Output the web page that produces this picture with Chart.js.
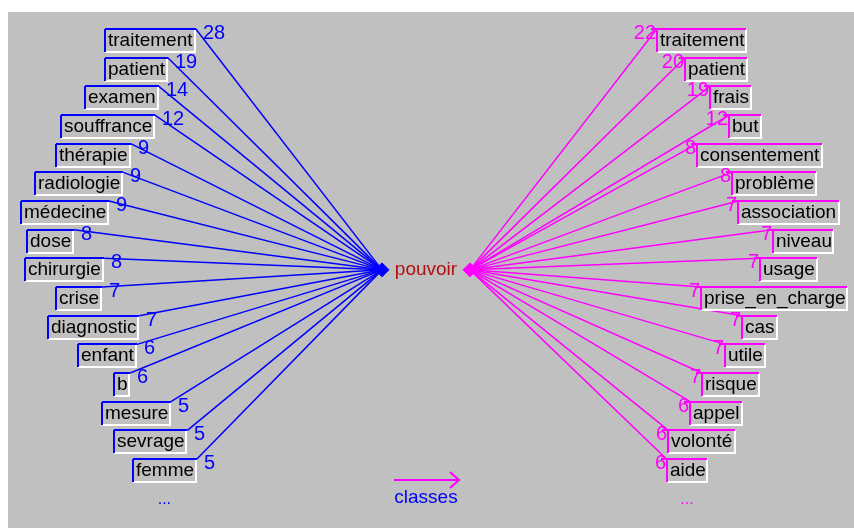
<!DOCTYPE html>
<html>
<head>
<meta charset="utf-8">
<script src="https://cdn.jsdelivr.net/npm/chart.js@4.4.1/dist/chart.umd.min.js"></script>
<style>
  html, body { margin: 0; padding: 0; background: #fff; }
</style>
</head>
<body>
<canvas id="chart" width="854" height="528"></canvas>
<script>
const centerWord = 'pouvoir';
const leftWords = ['traitement', 'patient', 'examen', 'souffrance', 'thérapie', 'radiologie', 'médecine', 'dose',
  'chirurgie', 'crise', 'diagnostic', 'enfant', 'b', 'mesure', 'sevrage', 'femme'];
const leftCounts = [28, 19, 14, 12, 9, 9, 9, 8, 8, 7, 7, 6, 6, 5, 5, 5];
const rightWords = ['traitement', 'patient', 'frais', 'but', 'consentement', 'problème', 'association', 'niveau',
  'usage', 'prise_en_charge', 'cas', 'utile', 'risque', 'appel', 'volonté', 'aide'];
const rightCounts = [22, 20, 19, 12, 8, 8, 7, 7, 7, 7, 7, 7, 7, 6, 6, 6];
const legendLabel = 'classes';
const moreLabel = '...';

const blue = '#0000ff';
const magenta = '#ff00ff';
const centerColor = '#b01010';
const panelGray = '#c0c0c0';
const wordFont = '19px "Liberation Sans", Arial, sans-serif';
const countFont = '20px "Liberation Sans", Arial, sans-serif';

const rowPx = 28.67;
const boxH = 23;
const boxHalf = (boxH / 2) / rowPx;
const hubRow = leftWords.length / 2;
const hubLeftX = 382;
const hubRightX = 470;

const measure = document.createElement('canvas').getContext('2d');
measure.font = wordFont;

function layoutBoxes(words, centerFor) {
  return words.map((w, i) => {
    const width = measure.measureText(w).width + 5;
    const cx = centerFor(i);
    return { left: cx - width / 2, right: cx + width / 2, center: cx };
  });
}
const leftBoxes = layoutBoxes(leftWords, i => 50 + 14.3 * Math.abs(i - 7));
const rightBoxes = layoutBoxes(rightWords, i => 803 - 14.5 * Math.abs(i - 7));

const datasets = [];
leftWords.forEach((w, i) => {
  datasets.push({
    data: [{ x: hubLeftX, y: hubRow }, { x: leftBoxes[i].right + 1, y: i - boxHalf }],
    borderColor: blue, borderWidth: 1.5, showLine: true, pointRadius: 0
  });
});
rightWords.forEach((w, i) => {
  datasets.push({
    data: [{ x: hubRightX, y: hubRow }, { x: rightBoxes[i].left, y: i - boxHalf }],
    borderColor: magenta, borderWidth: 1.5, showLine: true, pointRadius: 0
  });
});
datasets.push({
  data: [{ x: hubLeftX, y: hubRow }],
  pointStyle: 'rectRot', pointRadius: 7, backgroundColor: blue, borderColor: blue
});
datasets.push({
  data: [{ x: hubRightX, y: hubRow }],
  pointStyle: 'rectRot', pointRadius: 7, backgroundColor: magenta, borderColor: magenta
});

const wordBoxes = {
  id: 'wordBoxes',
  beforeDraw(chart) {
    const ctx = chart.ctx;
    ctx.save();
    ctx.fillStyle = '#fff';
    ctx.fillRect(0, 0, chart.width, chart.height);
    ctx.fillStyle = panelGray;
    ctx.fillRect(8, 12, chart.width - 8, chart.height - 12);
    ctx.restore();
  },
  afterDatasetsDraw(chart) {
    const { ctx, scales: { x, y } } = chart;
    ctx.save();

    const drawSide = (words, counts, boxes, color, isLeft) => {
      words.forEach((w, i) => {
        const top = Math.round(y.getPixelForValue(i) - boxH / 2);
        const l = Math.round(x.getPixelForValue(boxes[i].left));
        const r = Math.round(x.getPixelForValue(boxes[i].right));
        ctx.fillStyle = panelGray;
        ctx.fillRect(l, top, r - l, boxH);
        ctx.lineWidth = 2;
        ctx.strokeStyle = '#fff';
        ctx.beginPath();
        ctx.moveTo(l, top + boxH);
        ctx.lineTo(r, top + boxH);
        ctx.lineTo(r, top);
        ctx.stroke();
        ctx.strokeStyle = color;
        ctx.beginPath();
        ctx.moveTo(l, top + boxH);
        ctx.lineTo(l, top);
        ctx.stroke();
        ctx.beginPath();
        ctx.moveTo(isLeft ? l : l - 6, top);
        ctx.lineTo(isLeft ? r + 1 : r, top);
        ctx.stroke();

        ctx.fillStyle = '#000';
        ctx.font = wordFont;
        ctx.textAlign = 'left';
        ctx.textBaseline = 'alphabetic';
        ctx.fillText(w, l + 3, top + 16.5);

        ctx.fillStyle = color;
        ctx.font = countFont;
        ctx.textBaseline = 'middle';
        if (isLeft) {
          ctx.textAlign = 'left';
          ctx.fillText(String(counts[i]), r + 8, top + 4);
        } else {
          ctx.textAlign = 'right';
          ctx.fillText(String(counts[i]), l - 1, top + 4);
        }
      });
    };
    drawSide(leftWords, leftCounts, leftBoxes, blue, true);
    drawSide(rightWords, rightCounts, rightBoxes, magenta, false);

    ctx.font = wordFont;
    ctx.textAlign = 'center';
    ctx.textBaseline = 'alphabetic';
    ctx.fillStyle = centerColor;
    ctx.fillText(centerWord, x.getPixelForValue((hubLeftX + hubRightX) / 2), y.getPixelForValue(hubRow) + 5);

    const moreY = y.getPixelForValue(leftWords.length) + 5;
    ctx.font = '16px "Liberation Sans", Arial, sans-serif';
    ctx.fillStyle = blue;
    ctx.fillText(moreLabel, x.getPixelForValue(leftBoxes[leftBoxes.length - 1].center), moreY);
    ctx.fillStyle = magenta;
    ctx.fillText(moreLabel, x.getPixelForValue(rightBoxes[rightBoxes.length - 1].center), moreY);

    const cx = x.getPixelForValue((hubLeftX + hubRightX) / 2);
    const ay = chart.height - 48;
    ctx.strokeStyle = magenta;
    ctx.lineWidth = 2;
    ctx.beginPath();
    ctx.moveTo(cx - 32, ay);
    ctx.lineTo(cx + 33, ay);
    ctx.moveTo(cx + 24, ay - 8);
    ctx.lineTo(cx + 33, ay);
    ctx.lineTo(cx + 24, ay + 8);
    ctx.stroke();
    ctx.font = wordFont;
    ctx.fillStyle = blue;
    ctx.fillText(legendLabel, cx, chart.height - 25);

    ctx.restore();
  }
};

new Chart(document.getElementById('chart'), {
  type: 'scatter',
  data: { datasets: datasets },
  options: {
    responsive: false,
    animation: false,
    events: [],
    layout: { padding: 0, autoPadding: false },
    plugins: {
      legend: { display: false },
      tooltip: { enabled: false }
    },
    scales: {
      x: { type: 'linear', bounds: 'data', min: 0, max: 854, display: false },
      y: { type: 'linear', bounds: 'data', min: -40.5 / rowPx, max: -40.5 / rowPx + 528 / rowPx, reverse: true, display: false }
    }
  },
  plugins: [wordBoxes]
});
</script>
</body>
</html>
